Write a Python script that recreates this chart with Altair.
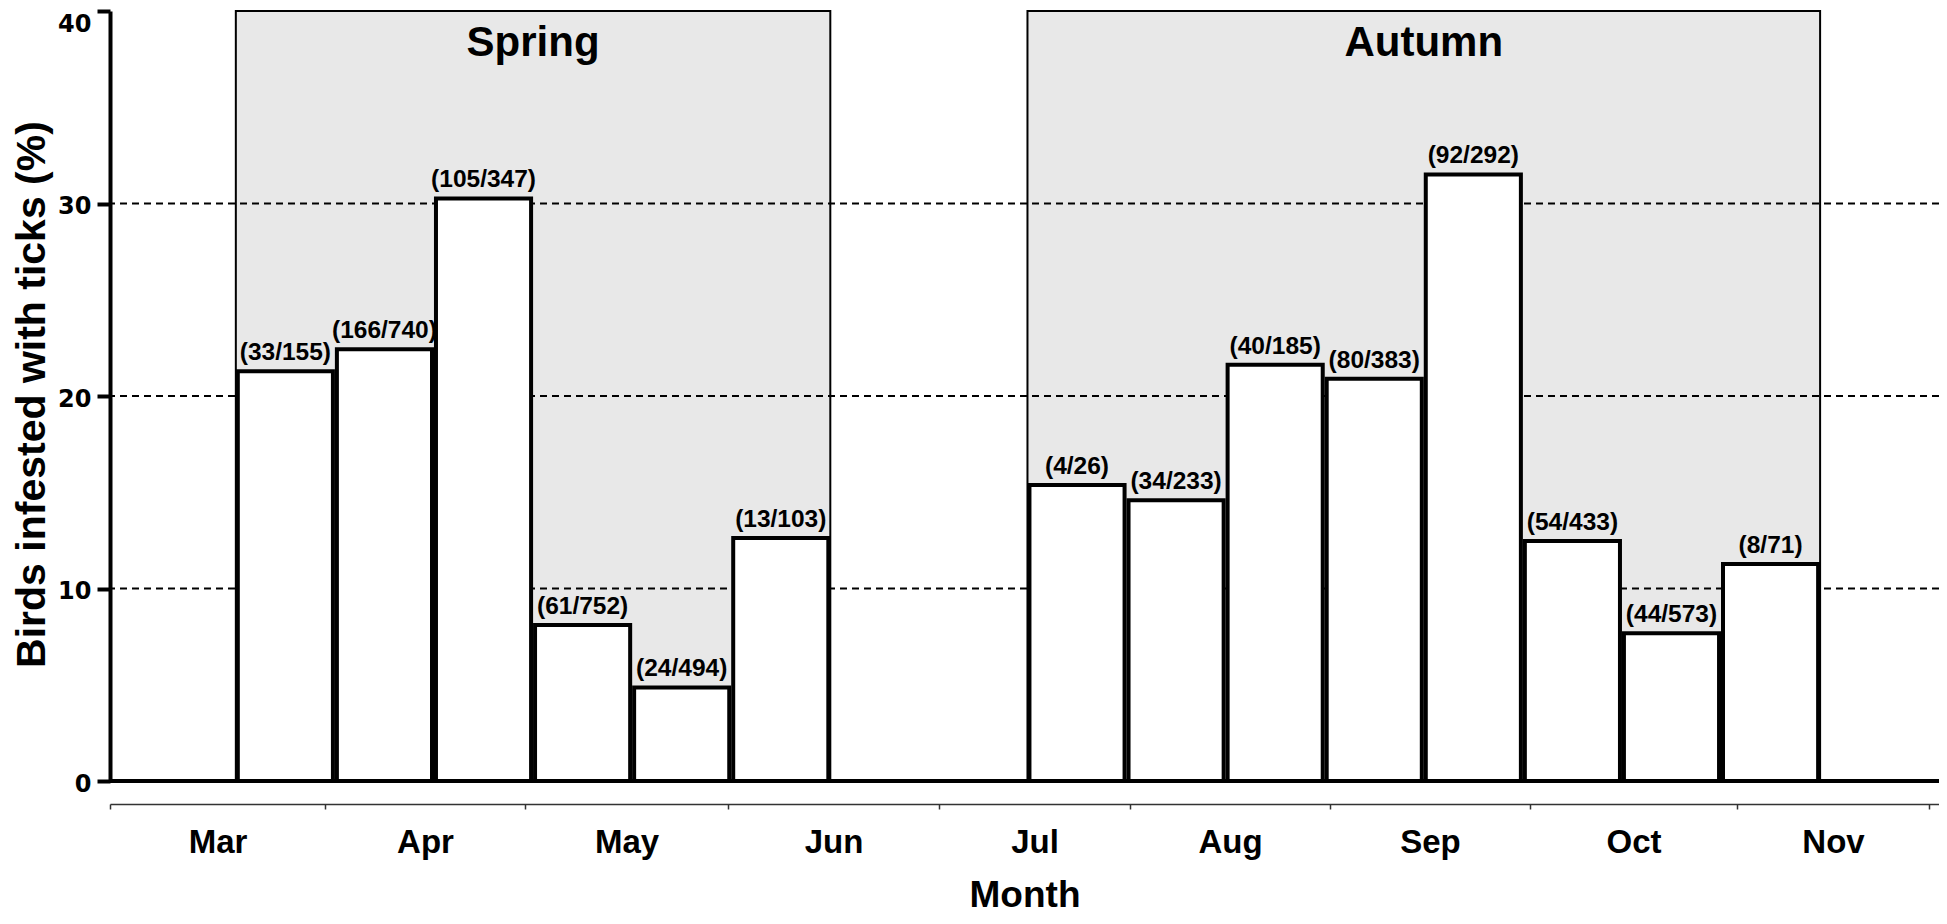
import altair as alt
import pandas as pd

# ---------------- data ----------------
spring_labels = ["(33/155)", "(166/740)", "(105/347)", "(61/752)", "(24/494)", "(13/103)"]
spring_values = [21.29, 22.43, 30.26, 8.11, 4.86, 12.62]

autumn_labels = ["(4/26)", "(34/233)", "(40/185)", "(80/383)", "(92/292)", "(54/433)", "(44/573)", "(8/71)"]
autumn_values = [15.38, 14.59, 21.62, 20.89, 31.51, 12.47, 7.68, 11.27]

seasons = ["Spring", "Autumn"]
month_names = ["Mar", "Apr", "May", "Jun", "Jul", "Aug", "Sep", "Oct", "Nov"]
y_ticks = [0, 10, 20, 30, 40]
grid_values = [10, 20, 30]

# ---------------- layout constants ----------------
PLOT_W, PLOT_H = 1829, 770
X_MAX = 18.46            # plot width in "bar slots"
SPRING_START = 1.27      # slot where the spring block starts
AUTUMN_START = 9.26      # slot where the autumn block starts
INSET = 0.02             # bar inset inside its slot
MONTH_EDGES_PX = [0, 215, 415, 618, 829, 1020, 1220, 1420, 1627, 1819]

FONT = "Liberation Sans"

rows = []
for i, (lab, v) in enumerate(zip(spring_labels, spring_values)):
    s = SPRING_START + i
    rows.append({"x0": s + INSET, "x1": s + 1 - INSET, "xc": s + 0.5, "pct": v, "label": lab, "zero": 0})
for i, (lab, v) in enumerate(zip(autumn_labels, autumn_values)):
    s = AUTUMN_START + i
    rows.append({"x0": s + INSET, "x1": s + 1 - INSET, "xc": s + 0.5, "pct": v, "label": lab, "zero": 0})
bars_df = pd.DataFrame(rows)

season_df = pd.DataFrame({
    "season": seasons,
    "x0": [SPRING_START, AUTUMN_START],
    "x1": [SPRING_START + len(spring_values), AUTUMN_START + len(autumn_values)],
    "xc": [SPRING_START + len(spring_values) / 2, AUTUMN_START + len(autumn_values) / 2],
    "bottom": [0, 0],
    "top": [y_ticks[-1], y_ticks[-1]],
})

grid_df = pd.DataFrame({"g": grid_values})
zero_df = pd.DataFrame({"z": [y_ticks[0]]})

# month axis: tick at every month edge, label centred between edges
unit = PLOT_W / X_MAX
edges = [round(p / unit, 4) for p in MONTH_EDGES_PX]
mids = [round((edges[k] + edges[k + 1]) / 2, 4) for k in range(len(month_names))]
axis_values = sorted(edges + mids)
label_expr = "".join(
    f"abs(datum.value - {m}) < 0.001 ? '{name}' : " for m, name in zip(mids, month_names)
) + "''"
mid_test = " || ".join(f"abs(datum.value - {m}) < 0.001" for m in mids)

xscale = alt.Scale(domain=[0, X_MAX], nice=False, zero=False)
yscale = alt.Scale(domain=[0, 40], nice=False)

xaxis = alt.Axis(
    orient="bottom", offset=23, values=axis_values, grid=False,
    domainColor="#333333", domainWidth=1.5,
    tickColor="#333333", tickWidth=1.5, tickSize=5,
    tickOpacity=alt.condition(mid_test, alt.value(0), alt.value(1)),
    labelExpr=label_expr,
    labelFont=FONT, labelFontWeight="bold", labelFontSize=33, labelColor="black",
    labelPadding=17, labelOverlap=False, labelFlush=False, labelBound=False,
    title="Month", titleFont=FONT, titleFontWeight="bold", titleFontSize=37,
    titleColor="black", titleY=102, titleBaseline="alphabetic",
)

yaxis = alt.Axis(
    orient="left", values=y_ticks, grid=False,
    domainColor="black", domainWidth=4,
    tickColor="black", tickWidth=4, tickSize=13,
    labelFont="DejaVu Sans", labelFontWeight="bold", labelFontSize=24,
    labelColor="black", labelPadding=6,
    labelOffset=alt.condition(f"datum.value == {y_ticks[-1]}", alt.value(13), alt.value(3)),
    title="Birds infested with ticks (%)",
    titleFont=FONT, titleFontWeight="bold", titleFontSize=41, titleColor="black",
    titleX=-66, titleY=383, titleAlign="center", titleBaseline="alphabetic",
)

regions = alt.Chart(season_df).mark_rect(
    fill="#e8e8e8", stroke="black", strokeWidth=2
).encode(
    x=alt.X("x0:Q", scale=xscale, axis=xaxis),
    x2="x1:Q",
    y=alt.Y("bottom:Q", scale=yscale, axis=yaxis),
    y2="top:Q",
)

grid = alt.Chart(grid_df).mark_rule(
    color="black", strokeWidth=2, strokeDash=[7, 5]
).encode(y=alt.Y("g:Q", scale=yscale, axis=None))

bars = alt.Chart(bars_df).mark_rect(
    fill="white", stroke="black", strokeWidth=4
).encode(
    x=alt.X("x0:Q", scale=xscale, axis=None),
    x2="x1:Q",
    y=alt.Y("pct:Q", scale=yscale, axis=None),
    y2="zero:Q",
)

zero_line = alt.Chart(zero_df).mark_rule(
    color="black", strokeWidth=4
).encode(y=alt.Y("z:Q", scale=yscale, axis=None))

bar_labels = alt.Chart(bars_df).mark_text(
    font=FONT, fontWeight="bold", fontSize=24.5, color="black",
    baseline="bottom", dy=-6
).encode(
    x=alt.X("xc:Q", scale=xscale, axis=None),
    y=alt.Y("pct:Q", scale=yscale, axis=None),
    text="label:N",
)

season_text = alt.Chart(season_df).mark_text(
    font=FONT, fontWeight="bold", fontSize=42, color="black",
    baseline="top", dy=12
).encode(
    x=alt.X("xc:Q", scale=xscale, axis=None),
    y=alt.Y("top:Q", scale=yscale, axis=None),
    text="season:N",
)

chart = alt.layer(
    regions, grid, bars, zero_line, bar_labels, season_text
).resolve_scale(x="shared", y="shared").resolve_axis(x="independent", y="independent").properties(
    width=PLOT_W, height=PLOT_H,
    autosize=alt.AutoSizeParams(type="none"),
    padding={"left": 102, "top": 3, "right": 0, "bottom": 135},
).configure_view(stroke=None)

chart.save("out.html", embed_options={"renderer": "svg", "actions": False})
